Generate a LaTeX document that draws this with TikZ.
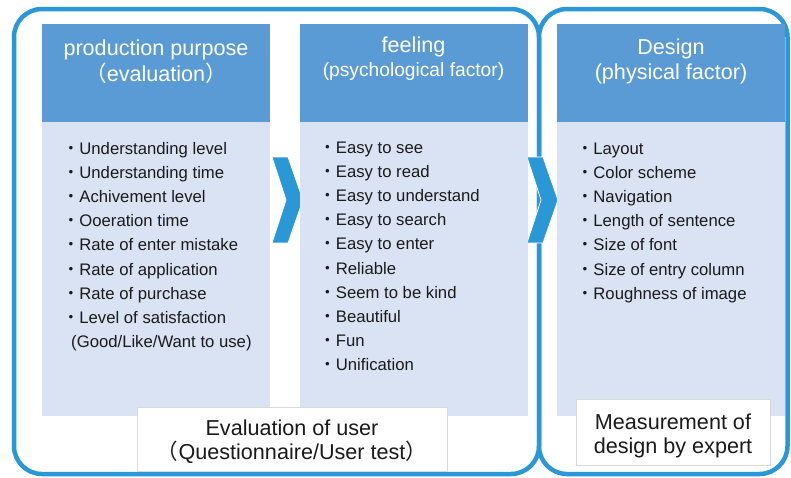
\documentclass[tikz,border=0pt]{standalone}
\usepackage{fontspec}
\setmainfont{Liberation Sans}
\newfontfamily\cjk{Noto Sans CJK SC}
\usetikzlibrary{positioning}

\definecolor{frameblue}{RGB}{42,151,215}
\definecolor{headblue}{RGB}{91,155,213}
\definecolor{bodyblue}{RGB}{218,227,243}
\definecolor{itemgray}{RGB}{26,26,26}

\tikzset{
  frame/.style={draw=frameblue, line width=4.5pt, rounded corners=28pt},
  chev/.style={fill=frameblue, draw=white, line width=0.8pt},
  title/.style={text=white, align=center, inner sep=0pt, font=\fontsize{21.6}{26}\selectfont},
  item/.style={anchor=base west, inner sep=0pt, text=itemgray, font=\fontsize{16.7}{20}\selectfont},
  note/.style={draw=black!15, fill=white, inner sep=0pt},
  notetext/.style={align=center, inner sep=0pt, text=itemgray, font=\fontsize{21.6}{24}\selectfont},
}

\begin{document}
\begin{tikzpicture}[x=1pt,y=-1pt]
\useasboundingbox (0,0) rectangle (791,477);

\def\htop{24}
\def\hbot{121.5}
\def\cbot{416}
\def\colw{228}
\def\dy{24.2}

%frames
\draw[frame] (14,9) rectangle (539,474);
\draw[frame] (539,9) rectangle (787.5,474);

%chevrons
\foreach \cx in {272, 527}{
    \draw[chev] (\cx,157) -- ++(16,0) -- ++(15,43) -- ++(-15,43) -- ++(-16,0) -- ++(14,-43) -- cycle;
}

%columns
\foreach \cx in {42, 299.5, 557}{
    \fill[headblue] (\cx,\htop) rectangle ++(\colw,\hbot-\htop);
    \fill[bodyblue] (\cx,\hbot) rectangle ++(\colw,\cbot-\hbot);
}

%titles
\node[title] (t1) at (156,62) {production purpose\\{\cjk （}evaluation{\cjk ）}};
\node[title, font=\fontsize{21.6}{24}\selectfont] (t2) at (413.5,59) {feeling\\{\fontsize{19.2}{24}\selectfont(psychological factor)}};
\node[title, font=\fontsize{21.6}{25}\selectfont] (t3) at (671,61.5) {Design\\(physical factor)};

%items
\foreach \txt [count=\k from 0] in {Understanding level, Understanding time, Achivement level, Ooeration time, Rate of enter mistake, Rate of application, Rate of purchase, Level of satisfaction}{
    \node[item] (a\k) at (62.5,154+\k*\dy) {{\cjk ・}\txt};
}
\node[item] (a8) at (71,154+8*\dy) {(Good/Like/Want to use)};

\foreach \txt [count=\k from 0] in {Easy to see, Easy to read, Easy to understand, Easy to search, Easy to enter, Reliable, Seem to be kind, Beautiful, Fun, Unification}{
    \node[item] (b\k) at (319,153+\k*\dy) {{\cjk ・}\txt};
}

\foreach \txt [count=\k from 0] in {Layout, Color scheme, Navigation, Length of sentence, Size of font, Size of entry column, Roughness of image}{
    \node[item] (c\k) at (576.5,154+\k*\dy) {{\cjk ・}\txt};
}

%bottom notes
\node[note, minimum width=310pt, minimum height=64pt] (n1) at (292,439) {};
\node[notetext] (n1t) at ([yshift=-3pt]n1.center) {Evaluation of user\\{\cjk （}Questionnaire/User test{\cjk ）}};
\node[note, minimum width=194pt, minimum height=66pt] (n2) at (673,432) {};
\node[notetext] (n2t) at ([yshift=-3.5pt]n2.center) {Measurement of\\design by expert};

\end{tikzpicture}
\end{document}
